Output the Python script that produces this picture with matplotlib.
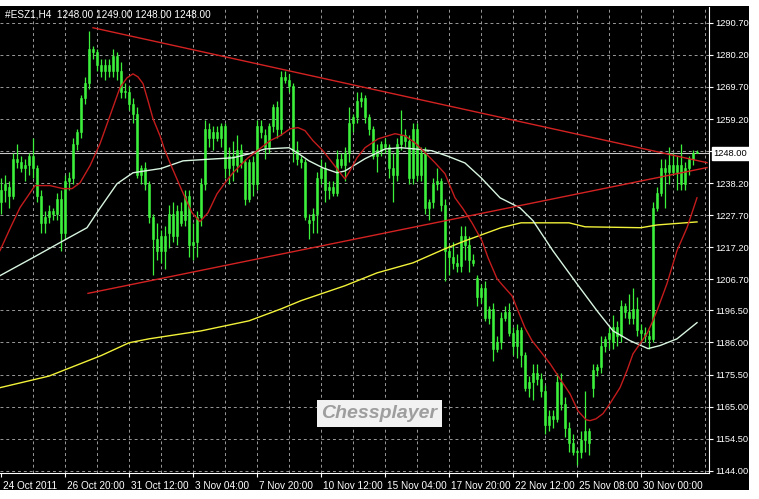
import matplotlib
matplotlib.use('Agg')
import matplotlib.pyplot as plt
import matplotlib.transforms as mtransforms
from matplotlib.patches import Rectangle
import numpy as np

plt.rcParams['font.family'] = ['Liberation Sans', 'DejaVu Sans']

# H4 candles of #ESZ1 (bar index 0 = 24 Oct 2011)
opens = [1232, 1236, 1237, 1234, 1246, 1245, 1243, 1244, 1247, 1243,
         1234, 1225, 1227, 1229, 1228, 1233, 1222, 1239, 1240, 1251,
         1255, 1266, 1271, 1282, 1281, 1277, 1275, 1277, 1275, 1280,
         1275, 1268, 1268, 1264, 1261, 1241, 1243, 1238, 1227, 1220,
         1216, 1221, 1222, 1228, 1221, 1229, 1226, 1234, 1218, 1219,
         1227, 1238, 1256, 1253, 1255, 1253, 1257, 1243, 1247, 1244,
         1249, 1245, 1233, 1245, 1238, 1257, 1254, 1250, 1257, 1263,
         1256, 1273, 1272, 1270, 1249, 1246, 1245, 1225, 1226, 1228,
         1240, 1243, 1236, 1237, 1235, 1246, 1244, 1248, 1258, 1260,
         1265, 1266, 1260, 1256, 1247, 1249, 1251, 1250, 1243, 1241,
         1251, 1254, 1252, 1240, 1256, 1241, 1248, 1230, 1232, 1238,
         1239, 1231, 1216, 1214, 1212, 1211, 1221, 1218, 1213, 1207,
         1201, 1204, 1194, 1197, 1184, 1186, 1194, 1196, 1189, 1185,
         1190, 1182, 1171, 1173, 1176, 1174, 1170, 1159, 1162, 1161,
         1173, 1166, 1158, 1153, 1150, 1150, 1154, 1157, 1171, 1177,
         1178, 1185, 1187, 1186, 1191, 1188, 1198, 1196, 1194, 1197,
         1190, 1189, 1188, 1187, 1230, 1235, 1243, 1242, 1244, 1242,
         1244, 1238, 1243, 1246, 1248]
highs = [1240, 1241, 1239, 1248, 1251, 1247, 1246, 1248, 1253, 1244,
         1236, 1229, 1231, 1230, 1235, 1236, 1241, 1242, 1253, 1256,
         1267, 1273, 1288, 1283, 1282, 1279, 1279, 1279, 1282, 1281,
         1278, 1271, 1270, 1266, 1263, 1244, 1245, 1239, 1228, 1225,
         1223, 1224, 1231, 1232, 1231, 1232, 1236, 1236, 1225, 1229,
         1240, 1259, 1258, 1257, 1257, 1258, 1258, 1250, 1252, 1254,
         1251, 1246, 1246, 1247, 1259, 1259, 1256, 1258, 1264, 1265,
         1275, 1275, 1274, 1271, 1252, 1247, 1246, 1228, 1230, 1242,
         1246, 1245, 1239, 1239, 1249, 1248, 1250, 1263, 1261, 1268,
         1268, 1267, 1261, 1257, 1251, 1252, 1253, 1251, 1248, 1253,
         1262, 1256, 1254, 1258, 1258, 1250, 1250, 1233, 1240, 1243,
         1240, 1233, 1218, 1219, 1215, 1224, 1224, 1221, 1215, 1208,
         1205, 1206, 1198, 1199, 1188, 1196, 1198, 1199, 1191, 1192,
         1191, 1183, 1175, 1179, 1179, 1176, 1172, 1164, 1164, 1176,
         1176, 1168, 1160, 1156, 1151, 1157, 1170, 1158, 1179, 1179,
         1188, 1188, 1191, 1195, 1193, 1200, 1199, 1202, 1204, 1201,
         1192, 1191, 1190, 1232, 1237, 1246, 1246, 1250, 1248, 1247,
         1251, 1245, 1247, 1249, 1249]
lows = [1228, 1232, 1230, 1233, 1243, 1242, 1239, 1241, 1240, 1232,
        1222, 1222, 1225, 1226, 1226, 1216, 1220, 1236, 1238, 1249,
        1253, 1264, 1269, 1279, 1275, 1273, 1272, 1273, 1273, 1272,
        1266, 1266, 1262, 1258, 1240, 1238, 1236, 1225, 1208, 1213,
        1212, 1210, 1217, 1219, 1218, 1224, 1224, 1214, 1213, 1214,
        1224, 1236, 1250, 1249, 1252, 1250, 1240, 1238, 1239, 1242,
        1243, 1231, 1232, 1234, 1236, 1253, 1246, 1248, 1255, 1253,
        1254, 1271, 1268, 1245, 1244, 1243, 1226, 1220, 1222, 1222,
        1238, 1232, 1233, 1234, 1234, 1243, 1239, 1245, 1255, 1258,
        1263, 1258, 1254, 1246, 1242, 1247, 1248, 1240, 1232, 1239,
        1249, 1250, 1238, 1238, 1239, 1239, 1228, 1226, 1230, 1236,
        1229, 1206, 1208, 1210, 1209, 1209, 1213, 1209, 1211, 1198,
        1199, 1193, 1192, 1180, 1183, 1184, 1193, 1188, 1182, 1181,
        1178, 1170, 1168, 1167, 1172, 1168, 1156, 1157, 1158, 1160,
        1164, 1155, 1150, 1149, 1146, 1148, 1150, 1149, 1168, 1175,
        1176, 1183, 1184, 1184, 1185, 1186, 1194, 1192, 1192, 1188,
        1186, 1186, 1184, 1186, 1229, 1234, 1230, 1238, 1241, 1236,
        1236, 1236, 1241, 1244, 1248]
closes = [1236, 1238, 1234, 1246, 1245, 1243, 1244, 1247, 1243, 1234,
          1225, 1227, 1229, 1228, 1233, 1222, 1239, 1240, 1251, 1255,
          1266, 1271, 1282, 1281, 1277, 1275, 1277, 1275, 1280, 1275,
          1268, 1268, 1264, 1261, 1241, 1243, 1238, 1227, 1220, 1216,
          1221, 1216, 1228, 1221, 1229, 1225, 1234, 1218, 1219, 1227,
          1238, 1256, 1253, 1255, 1253, 1257, 1243, 1247, 1244, 1249,
          1245, 1233, 1245, 1238, 1257, 1255, 1250, 1257, 1263, 1256,
          1273, 1272, 1270, 1249, 1246, 1245, 1227, 1226, 1228, 1240,
          1243, 1236, 1237, 1235, 1246, 1244, 1248, 1258, 1260, 1265,
          1266, 1260, 1256, 1247, 1249, 1251, 1250, 1243, 1241, 1251,
          1254, 1252, 1240, 1256, 1241, 1248, 1230, 1232, 1238, 1239,
          1231, 1216, 1214, 1212, 1211, 1221, 1218, 1213, 1212, 1201,
          1204, 1194, 1197, 1184, 1186, 1194, 1196, 1189, 1185, 1190,
          1182, 1171, 1173, 1176, 1174, 1170, 1159, 1162, 1161, 1173,
          1166, 1158, 1153, 1150, 1150, 1154, 1157, 1153, 1177, 1178,
          1185, 1187, 1189, 1191, 1188, 1198, 1196, 1194, 1197, 1190,
          1189, 1188, 1187, 1230, 1235, 1243, 1242, 1244, 1242, 1244,
          1238, 1243, 1246, 1248, 1248]

# moving averages (bar position, price)
red_ma_idx = [-0.25, 2.25, 4.75, 8.5, 12.25, 15.5, 17.75, 19.75, 22.25, 24.75, 27.25,
              29.75, 31.5, 33, 34.25, 35.5, 36.75, 38, 39.75, 41, 42.75, 45.25, 47.75,
              49.75, 51.75, 54, 56, 58, 61.75, 64.75, 67.25, 69.75, 72.25, 74.25, 76, 78,
              80.5, 83, 84.75, 86, 87.25, 89, 91, 94.25, 98.5, 101, 103.5, 106, 108.5, 111,
              113.5, 115.5, 117.75, 120.25, 121.75, 124, 125.5, 127.75, 129.25, 131,
              132.75, 134.75, 137.25, 139.75, 142.25, 144.25, 146.25, 147.25, 148.75,
              150.5, 152.25, 154.75, 156.5, 158, 159.75, 161.5, 162.75, 164, 166.5, 169,
              171.5, 174]
red_ma = [1216.1, 1223.3, 1230.2, 1237.4, 1237.4, 1236.4, 1236.4, 1238.3, 1243.9, 1251.1,
          1260.3, 1269.5, 1272.7, 1274.0, 1273.0, 1270.8, 1265.2, 1259.3, 1253.7, 1248.8,
          1243.3, 1235.7, 1228.5, 1225.6, 1228.5, 1234.7, 1238.3, 1241.6, 1246.5, 1249.5,
          1252.1, 1253.7, 1256.0, 1256.4, 1255.4, 1252.1, 1248.8, 1244.6, 1241.6, 1239.6,
          1242.3, 1246.5, 1249.8, 1252.7, 1254.4, 1253.7, 1251.4, 1248.2, 1244.9, 1241.3,
          1233.4, 1229.8, 1225.2, 1219.3, 1213.8, 1206.9, 1204.6, 1201.3, 1196.4, 1190.8,
          1186.6, 1183.3, 1179.1, 1174.1, 1169.2, 1163.6, 1160.7, 1160.4, 1161.0, 1162.7,
          1166.0, 1171.2, 1176.8, 1182.3, 1185.6, 1188.9, 1192.5, 1196.4, 1205.3, 1216.1,
          1223.6, 1233.4]
white_ma_idx = [-0.25, 8, 16.5, 21.5, 24.75, 29, 33, 40, 45.5, 51.5, 58, 62, 66, 72, 74, 77,
                80.5, 84, 86, 91, 96, 100, 103.5, 107.75, 111.75, 116, 120, 124.75, 129.75,
                133, 138, 144, 149, 153, 157.25, 161.75, 164.75, 169, 174]
white_ma = [1207.9, 1213.8, 1220, 1223.6, 1230, 1238, 1241.6, 1243, 1245.5, 1246, 1246.5,
            1247.8, 1249.4, 1249.8, 1248.2, 1245.5, 1243.2, 1241.6, 1242.2, 1246.2, 1249.4,
            1249.8, 1249.4, 1248.8, 1247, 1244.8, 1240, 1233.4, 1230.1, 1225.9, 1216,
            1205.2, 1196.4, 1189.8, 1186.6, 1184, 1185, 1187.2, 1192.5]
yellow_ma_idx = [-0.25, 12, 25, 32, 37, 50, 62, 70, 75, 86, 94, 103, 111, 116, 125, 130,
                 142, 146, 160, 164, 174]
yellow_ma = [1171.2, 1175, 1181.7, 1185.9, 1187.2, 1189.8, 1193.1, 1197, 1199.7, 1204.6,
             1208.8, 1212.1, 1216.7, 1219.3, 1223.6, 1225.2, 1225.2, 1223.9, 1223.6, 1224.5,
             1225.5]

# hand drawn trend lines (bar position, price)
upper_line_idx = [23, 176.5]
upper_line = [1289.1, 1244.9]
lower_line_idx = [21.75, 176.5]
lower_line = [1202.1, 1243.3]

price_levels = [1290.70, 1280.20, 1269.70, 1259.20, 1248.70, 1238.20, 1227.70, 1217.20,
                1206.70, 1196.50, 1186.00, 1175.50, 1165.00, 1154.50, 1144.00]
time_idx = [0, 16, 32, 48, 64, 80, 96, 112, 128, 144, 160]
time_labels = ['24 Oct 2011', '26 Oct 20:00', '31 Oct 12:00', '3 Nov 04:00', '7 Nov 20:00',
               '10 Nov 12:00', '15 Nov 04:00', '17 Nov 20:00', '22 Nov 12:00',
               '25 Nov 08:00', '30 Nov 00:00']
bid = 1248.00
header = '#ESZ1,H4  1248.00 1249.00 1248.00 1248.00'

W, H = 759, 499
fs = 7.2
fs_price = 6.7
fig = plt.figure(figsize=(W / 100, H / 100), dpi=100, facecolor='white')
# black chart window behind the axes
fig.patches.append(Rectangle((0, 9 / H), 749 / W, 484 / H, transform=fig.transFigure,
                             facecolor='black', edgecolor='none', zorder=-10))
ax = fig.add_axes([0, 26 / H, 709 / W, 466 / H])
ax.set_zorder(1)
ax.set_facecolor('black')
ax.set_xlim(-0.25, 177)
ax.set_ylim(1143.25, 1295.9)

grid_kw = dict(color='#9a9a9a', lw=0.7, ls=(0, (3, 3)), zorder=1)
for p in price_levels:
    ax.axhline(p, **grid_kw)
for b in range(8, 177, 8):
    ax.axvline(b, **grid_kw)

ax.axhline(bid, color='#c8c8c8', lw=0.8, zorder=1.5)

lime = '#3cf03c'
idx = np.arange(len(closes))
o = np.array(opens, dtype=float)
c = np.array(closes, dtype=float)
ax.vlines(idx, lows, highs, color=lime, lw=0.9, zorder=3)
body_lo = np.minimum(o, c)
body_h = np.maximum(np.abs(c - o), 0.35)
ax.bar(idx, body_h, bottom=body_lo, width=0.7, color=lime, edgecolor=lime, lw=0.4, zorder=3)

ax.plot(yellow_ma_idx, yellow_ma, color='#f2f23a', lw=1.0, zorder=4)
ax.plot(white_ma_idx, white_ma, color='#d8f5e0', lw=1.0, zorder=4)
ax.plot(red_ma_idx, red_ma, color='#c41c1c', lw=1.0, zorder=4)
ax.plot(upper_line_idx, upper_line, color='#d42222', lw=1.0, zorder=5)
ax.plot(lower_line_idx, lower_line, color='#d42222', lw=1.0, zorder=5)

for s in ['top', 'left']:
    ax.spines[s].set_visible(False)
for s in ['right', 'bottom']:
    ax.spines[s].set_color('white')
    ax.spines[s].set_linewidth(0.8)

ax.yaxis.tick_right()
ax.set_yticks(price_levels)
ax.set_yticklabels(['' if p == 1248.70 else '%.2f' % p for p in price_levels])
ax.tick_params(axis='y', colors='white', labelcolor='white', length=3, width=0.8, pad=1.5,
               labelsize=fs_price)
ax.set_xticks(time_idx)
ax.set_xticklabels(time_labels, ha='left')
ax.tick_params(axis='x', colors='white', labelcolor='white', length=3, width=0.8, pad=3,
               labelsize=fs)
shift = mtransforms.ScaledTranslation(2 / 100, 0, fig.dpi_scale_trans)
for lab in ax.get_xticklabels():
    lab.set_transform(lab.get_transform() + shift)

ax.annotate('%.2f' % bid, xy=(1, bid), xycoords=('axes fraction', 'data'),
            xytext=(3.3, 0), textcoords='offset points', va='center', ha='left',
            fontsize=fs_price, color='black', annotation_clip=False,
            bbox=dict(boxstyle='square,pad=0.2', facecolor='white', edgecolor='white'))

ax.text(0.007, 0.983, header, transform=ax.transAxes, color='white', fontsize=fs,
        va='center', ha='left')

ax.text(379.5 / 709, (473 - 413.5) / 466, 'Chessplayer', transform=ax.transAxes,
        ha='center', va='center', fontsize=14, fontweight='bold', style='italic',
        color='#9e9e9e', zorder=6,
        bbox=dict(boxstyle='square,pad=0.25', facecolor='#f2f2f2', edgecolor='none'))

fig.savefig('out.png', dpi=100, facecolor='white')
